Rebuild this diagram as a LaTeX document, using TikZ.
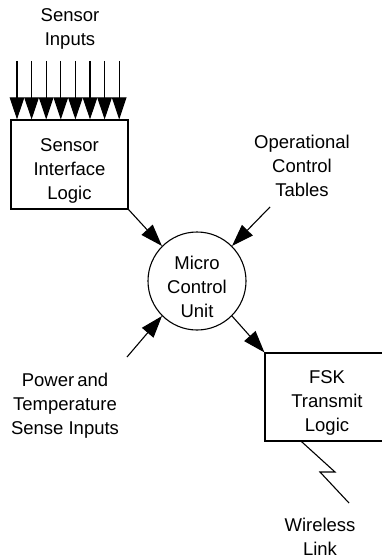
\documentclass[tikz,border=0pt]{standalone}
\usepackage{fontspec}
\setmainfont{Liberation Sans}
\usetikzlibrary{arrows.meta,calc}
\newcommand\liftline{\rule{0pt}{25pt}}
\begin{document}
\begin{tikzpicture}[x=1pt,y=-1pt,
  txt/.style={align=center,font=\fontsize{18.5}{24}\selectfont,inner sep=0pt},
  box/.style={draw,line width=1.1pt,txt,minimum height=89pt},
  conn/.style={line width=1.1pt,-{Triangle[length=22pt,width=15pt]}},
  inarr/.style={line width=1.1pt,-{Triangle[length=22pt,width=14.5pt]}},
  wire/.style={line width=1.1pt}]
\useasboundingbox (0,0) rectangle (382,559);
\clip (0,0) rectangle (382,559);
\node[box,minimum width=117pt] (sil) at (69.5,164.5) {\liftline Sensor\\Interface\\Logic};
\node[draw,circle,line width=1.1pt,txt,minimum size=98pt] (mcu) at (197,281) {\liftline Micro\\Control\\Unit};
\node[box,minimum width=124pt,minimum height=88pt] (fsk) at (327,397) {\liftline FSK\\Transmit\\Logic};
\node[txt] (sin) at (70,29) {Sensor\\Inputs};
\node[txt] (oct) at (302,166) {Operational\\Control\\Tables};
\node[txt] (pts) at (65,406) {Power\,and\\Temperature\\Sense Inputs};
\node[txt] (wl) at (320,537) {Wireless\\Link};
\foreach \i in {0,...,7}{
  \coordinate (in\i) at ({17+14.6*\i},61);
  \draw[inarr] (in\i) -- (in\i |- sil.north);
}
\coordinate (opin) at (270,207);
\coordinate (pwin) at (127,357);
\draw[conn] (sil.south east) -- (mcu.135);
\draw[conn] (opin) -- (mcu.45);
\draw[conn] (pwin) -- (mcu.225);
\draw[conn] (mcu.315) -- (fsk.north west);
\coordinate (l0) at ($(fsk.south west)+(37,0)$);
\coordinate (l1) at (335,472);
\coordinate (l2) at (320,472);
\coordinate (l3) at (349,503);
\draw[wire] (l0) -- (l1) -- (l2) -- (l3);
\end{tikzpicture}
\end{document}
